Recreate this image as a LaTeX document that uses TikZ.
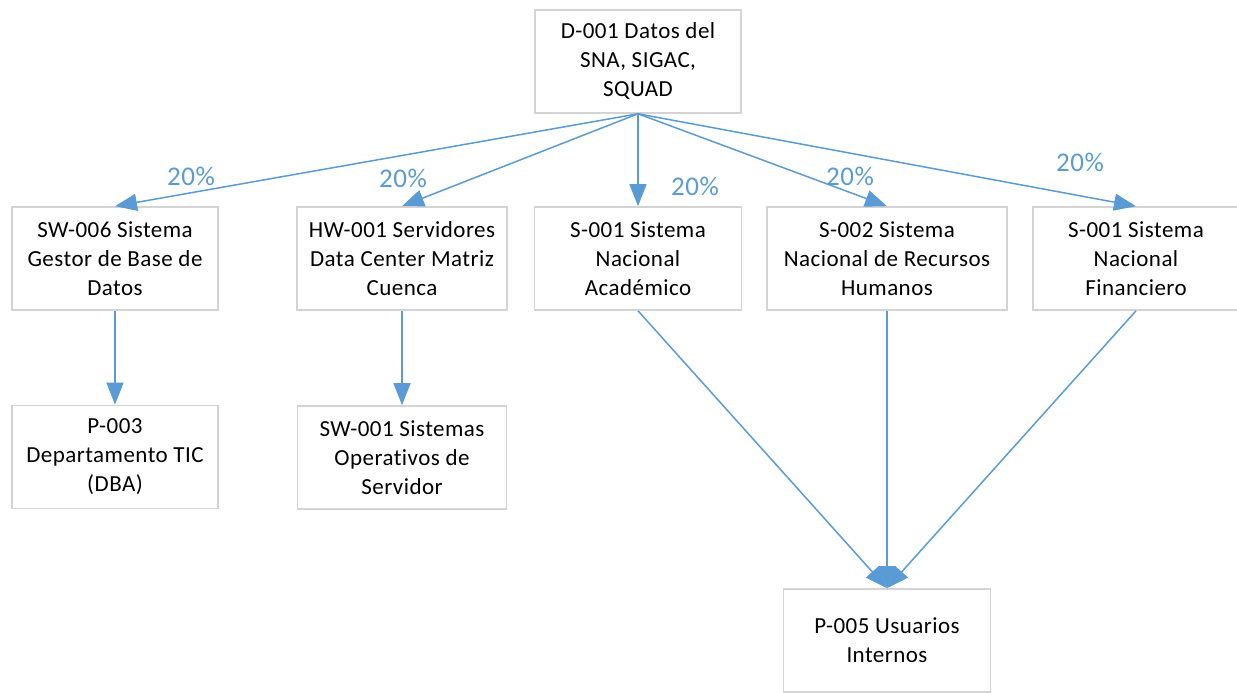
\documentclass[tikz,border=0pt]{standalone}
\usepackage{fontspec}
\setmainfont{Carlito}[Ligatures=CommonOff, LetterSpace=2]
\usetikzlibrary{arrows.meta}
\definecolor{linkblue}{HTML}{5B9BD5}
\definecolor{boxline}{HTML}{D4D4D4}
\tikzset{
  box/.style={draw=boxline, line width=1.6pt, fill=white, rectangle,
    minimum height=103pt, inner sep=0pt, align=center,
    font=\fontsize{23}{29}\selectfont, text=black},
  link/.style={draw=linkblue, line width=1.5pt,
    -{Triangle[length=22pt,width=17pt]}, color=linkblue},
  share/.style={text=linkblue, font=\fontsize{27}{30}\selectfont, inner sep=0pt}
}
\begin{document}
\begin{tikzpicture}[x=1pt,y=-1pt]
\useasboundingbox (0,0) rectangle (1237,693);

% top data node
\node[box, minimum width=206pt] (d001) at (638,61.5) {D-001 Datos del\\SNA, SIGAC,\\SQUAD};

% second row
\node[box, minimum width=206pt] (sw006) at (115,258.5) {SW-006 Sistema\\Gestor de Base de\\Datos};
\node[box, minimum width=210pt] (hw001) at (402,258.5) {HW-001 Servidores\\Data Center Matriz\\Cuenca};
\node[box, minimum width=207pt] (s001a) at (638,258.5) {S-001 Sistema\\Nacional\\Académico};
\node[box, minimum width=240pt] (s002) at (887,258.5) {S-002 Sistema\\Nacional de Recursos\\Humanos};
\node[box, minimum width=206pt] (s001f) at (1136,258.5) {S-001 Sistema\\Nacional\\Financiero};

% third row
\node[box, minimum width=206pt] (p003) at (115,457) {P-003\\Departamento TIC\\(DBA)};
\node[box, minimum width=209pt] (sw001) at (402,457.5) {SW-001 Sistemas\\Operativos de\\Servidor};

% bottom
\node[box, minimum width=207pt] (p005) at (887,640.5) {P-005 Usuarios\\Internos};

% dependencies from the data node
\draw[link] (d001.south) -- (sw006.north);
\draw[link] (d001.south) -- (hw001.north);
\draw[link] (d001.south) -- (s001a.north);
\draw[link] (d001.south) -- (s002.north);
\draw[link] (d001.south) -- (s001f.north);

\draw[link] (sw006.south) -- (p003.north);
\draw[link] (hw001.south) -- (sw001.north);
\draw[link] (s001a.south) -- (p005.north);
\draw[link] (s002.south) -- (p005.north);
\draw[link] (s001f.south) -- (p005.north);

% weights
\node[share] (w1) at (191,176) {20\%};
\node[share] (w2) at (403,178) {20\%};
\node[share] (w3) at (695,186) {20\%};
\node[share] (w4) at (850,176) {20\%};
\node[share] (w5) at (1080,162) {20\%};
\end{tikzpicture}
\end{document}
